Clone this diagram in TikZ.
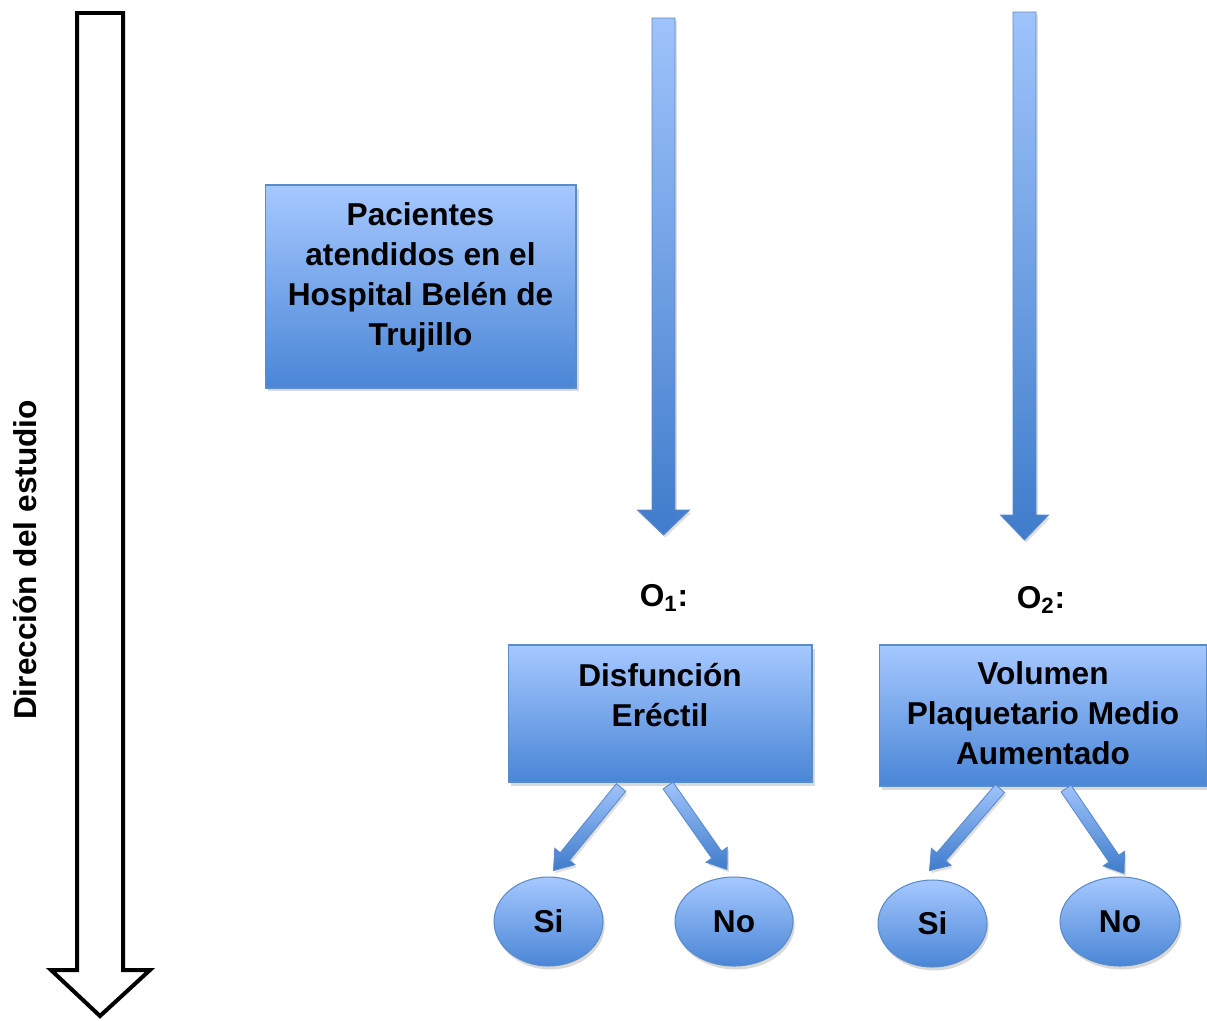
\documentclass[tikz,border=0pt]{standalone}
\usepackage{fontspec}
\setmainfont{Liberation Sans}
\usetikzlibrary{calc, shapes.geometric, shadows}
\definecolor{boxtop}{HTML}{A6C8FF}
\definecolor{boxbot}{HTML}{4A86D6}
\definecolor{boxedge}{HTML}{5B8BC8}
\definecolor{arrtop}{HTML}{9FC3FB}
\definecolor{arrbot}{HTML}{3F7CCB}
\tikzset{
  bluebox/.style={rectangle, draw=boxedge, line width=0.6pt, top color=boxtop, bottom color=boxbot,
                  drop shadow={shadow xshift=1.5pt, shadow yshift=-2pt, opacity=0.3}},
  boxtext/.style={align=center, font=\bfseries\fontsize{18pt}{22.8pt}\selectfont},
  answer/.style={ellipse, draw=boxedge, line width=0.6pt, top color=boxtop, bottom color=boxbot, inner sep=0pt,
                 minimum height=1.78cm, font=\bfseries\fontsize{18pt}{22.8pt}\selectfont,
                 drop shadow={shadow xshift=1pt, shadow yshift=-2pt, opacity=0.3}},
  blockarrow/.style={draw=boxedge, line width=0.5pt, top color=arrtop, bottom color=arrbot,
                     drop shadow={shadow xshift=1pt, shadow yshift=-1.5pt, opacity=0.25}},
  hollowarrow/.style={draw=black, line width=0.08cm, fill=white, line join=miter},
}
% #1 style, #2 from, #3 tip, #4 half shaft, #5 half head, #6 head length
\newcommand{\fatarrow}[6][blockarrow]{%
  \coordinate (fahead) at ($(#3)!#6!(#2)$);
  \path[#1] ($(#2)!#4!90:(#3)$) -- ($(fahead)!#4!-90:(#2)$) -- ($(fahead)!#5!-90:(#2)$) -- (#3)
    -- ($(fahead)!#5!90:(#2)$) -- ($(fahead)!#4!90:(#2)$) -- ($(#2)!#4!-90:(#3)$) -- cycle;}

\begin{document}
\begin{tikzpicture}[x=0.02cm, y=-0.02cm]
  \useasboundingbox (0,0) rectangle (1207,1021);

  % direction of the study
  \draw[hollowarrow] (77,13) -- (123,13) -- (123,970) -- (150,970) -- (100,1016)
                     -- (51,970) -- (77,970) -- cycle;
  \node[boxtext, rotate=90] (dir) at (25,560) {Dirección del estudio};

  % boxes
  \node[bluebox, minimum width=6.22cm, minimum height=4.06cm] (pac) at (420.5,286.5) {};
  \node[boxtext] (pact) at ($(pac.north)+(0,93)$) {Pacientes\\atendidos en el\\Hospital Belén de\\Trujillo};

  \node[boxtext] (o1) at (664,598) {O\textsubscript{1}:};
  \node[boxtext] (o2) at (1041,600) {O\textsubscript{2}:};

  \node[bluebox, minimum width=6.08cm, minimum height=2.74cm] (de) at (660,713.5) {};
  \node[boxtext] (det) at ($(de.north)+(0,51)$) {Disfunción\\Eréctil};

  \node[bluebox, minimum width=6.56cm, minimum height=2.82cm] (vp) at (1043,715.5) {};
  \node[boxtext] (vpt) at ($(vp.north)+(0,69)$) {Volumen\\Plaquetario Medio\\Aumentado};

  % answers
  \node[answer, minimum width=2.18cm] (si1) at (548.5,921.5) {Si};
  \node[answer, minimum width=2.36cm] (no1) at (734,921.5) {No};
  \node[answer, minimum width=2.18cm, minimum height=1.74cm] (si2) at (932.5,923.5) {Si};
  \node[answer, minimum width=2.40cm] (no2) at (1120,921.5) {No};

  % arrows
  \coordinate (t1) at (663.5,18);
  \coordinate (e1) at ($(o1)+(-0.5,-63)$);
  \coordinate (t2) at (1024.5,12);
  \coordinate (e2) at ($(o2)+(-16.5,-60)$);
  \fatarrow{t1}{e1}{0.23cm}{0.52cm}{0.5cm}
  \fatarrow{t2}{e2}{0.23cm}{0.48cm}{0.5cm}

  \fatarrow{$(de.south)+(-39,5)$}{$(si1.north)+(5,-6)$}{0.12cm}{0.26cm}{0.36cm}
  \fatarrow{$(de.south)+(8,3)$}{$(no1.north)+(-7,-7)$}{0.12cm}{0.26cm}{0.36cm}
  \fatarrow{$(vp.south)+(-43,2)$}{$(si2.north)+(-3,-9)$}{0.12cm}{0.26cm}{0.36cm}
  \fatarrow{$(vp.south)+(23,2)$}{$(no2.north)+(4,-3)$}{0.12cm}{0.26cm}{0.36cm}
\end{tikzpicture}
\end{document}
